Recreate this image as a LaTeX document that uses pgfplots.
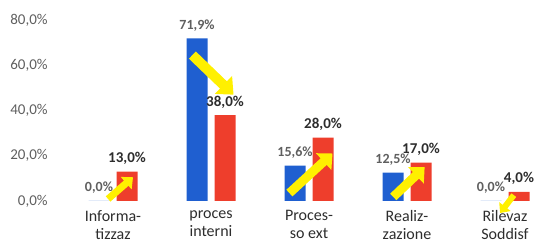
\documentclass[border=0pt]{standalone}
\usepackage{pgfplots}
\pgfplotsset{compat=1.18}
\usepackage{fontspec}
\setmainfont{Carlito}
\usetikzlibrary{arrows.meta}
\definecolor{cblue}{RGB}{31,95,208}
\definecolor{cred}{RGB}{238,62,44}
\definecolor{cyel}{RGB}{255,240,0}
\definecolor{ctick}{RGB}{95,95,95}
\definecolor{clab}{RGB}{45,45,45}
\begin{document}
\begin{tikzpicture}
\begin{axis}[
  at={(54.2pt,45pt)}, anchor=south west,
  scale only axis, width=480.2pt, height=181pt,
  xmin=-0.6, xmax=4.3, ymin=0, ymax=80,
  ybar=7pt, bar width=21pt,
  axis line style={draw=none},
  major tick length=0pt,
  xtick={0,1,2,3,4},
  xticklabels={Informa-\\tizzaz,proces\\interni,Proces-\\so ext,Realiz-\\zazione,Rilevaz\\Soddisf},
  xticklabel style={align=center, font=\fontsize{16}{18}\selectfont, text=clab, yshift=-6pt},
  ytick={0,20,40,60,80},
  yticklabels={{0,0\%},{20,0\%},{40,0\%},{60,0\%},{80,0\%}},
  yticklabel style={font=\fontsize{15}{18}\selectfont, text=ctick, xshift=-3pt},
  clip=false,
  nodes near coords,
  point meta=explicit symbolic,
  every node near coord/.append style={anchor=base, inner sep=0pt, yshift=9pt},
]
\addplot[fill=cblue, draw=none, nodes near coords style={font=\bfseries\fontsize{14}{15}\selectfont, text=ctick}]
  coordinates {(0,0) [{0,0\%}] (1,71.9) [{71,9\%}] (2,15.6) [{15,6\%}] (3,12.5) [{12,5\%}] (4,0) [{0,0\%}]};
\addplot[fill=cred, draw=none, nodes near coords style={font=\bfseries\fontsize{15}{17}\selectfont, text=clab}]
  coordinates {(0,13) [{13,0\%}] (1,38) [{38,0\%}] (2,28) [{28,0\%}] (3,17) [{17,0\%}] (4,4) [{4,0\%}]};
\draw[cyel, line width=7pt, -{Triangle[length=9pt,width=16pt]}] (axis cs:-0.05,0.9) -- (axis cs:0.204,10.5);
\draw[cyel, line width=10pt, -{Triangle[length=14pt,width=24pt]}] (axis cs:0.81,64.5) -- (axis cs:1.23,47);
\draw[cyel, line width=9pt, -{Triangle[length=12pt,width=22pt]}] (axis cs:1.80,3.5) -- (axis cs:2.24,21);
\draw[cyel, line width=9pt, -{Triangle[length=12pt,width=22pt]}] (axis cs:2.86,1.8) -- (axis cs:3.18,15);
\draw[cyel, line width=6pt, -{Triangle[length=8pt,width=14pt]}] (axis cs:4.09,2.6) -- (axis cs:3.95,-5.3);
\end{axis}
\pgfresetboundingbox
\path[use as bounding box] (0,0) rectangle (536pt,246pt);
\end{tikzpicture}
\end{document}
